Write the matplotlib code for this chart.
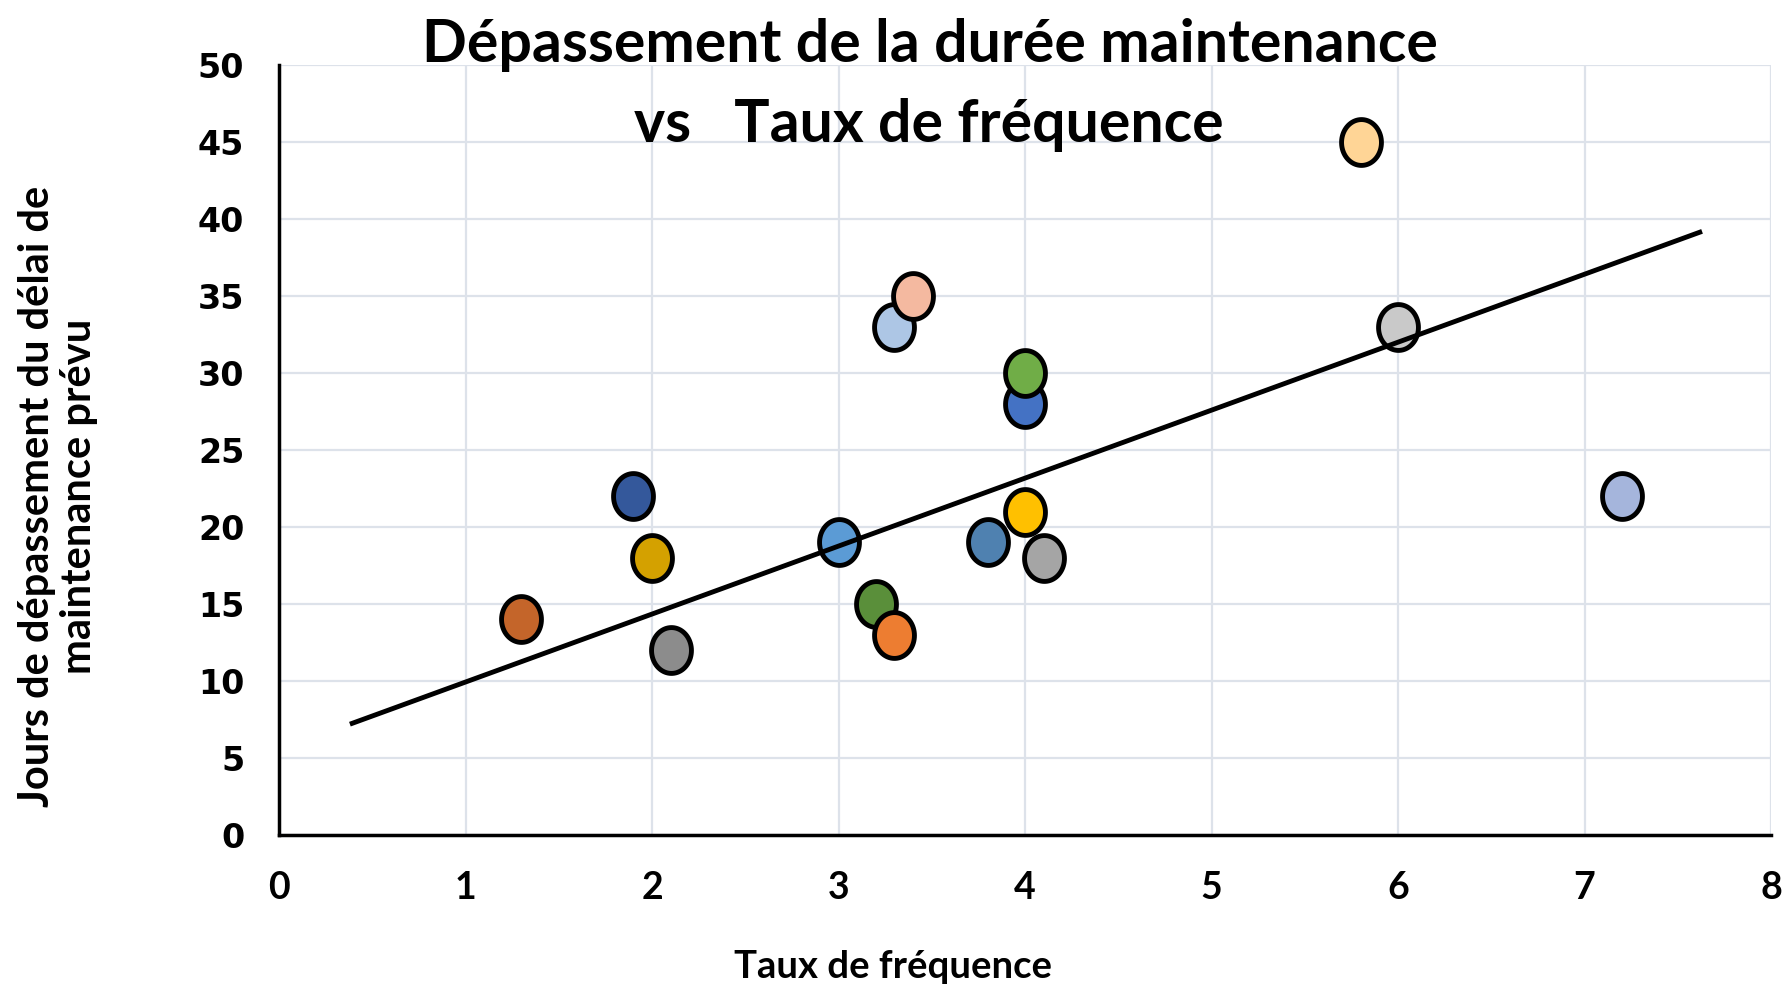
import numpy as np
import matplotlib
matplotlib.use("Agg")
import matplotlib.pyplot as plt
from matplotlib.path import Path

# data
taux = [1.3, 1.9, 2.0, 2.1, 3.0, 3.3, 3.4, 3.2, 3.3, 3.8, 4.0, 4.0, 4.0, 4.1, 5.8, 6.0, 7.2]
jours = [14, 22, 18, 12, 19, 33, 35, 15, 13, 19, 28, 30, 21, 18, 45, 33, 22]
couleurs = ['#C4652A', '#34589B', '#D4A100', '#8C8C8C', '#5B9BD5', '#ADC6E5',
            '#F4B9A0', '#5A8F3A', '#ED7D31', '#4F81B0', '#4472C4', '#70AD47',
            '#FFC000', '#A5A5A5', '#FFD596', '#C9C9C9', '#A5B5DC']
trend_x = [0.38, 7.63]
trend_y = [7.2, 39.2]

NARROW = ['Lato', 'Open Sans', 'DejaVu Sans']

# slightly tall ellipse marker
t = np.linspace(0, 2 * np.pi, 80)
ellipse = Path(np.column_stack([0.87 * np.cos(t), np.sin(t)]), closed=True)

fig = plt.figure(figsize=(17.83, 9.86), dpi=100)
ax = fig.add_axes([0.1565, 0.1531, 0.8368, 0.7809])

for x, y, c in zip(taux, jours, couleurs):
    ax.plot(x, y, marker=ellipse, markersize=33, markerfacecolor=c,
            markeredgecolor='black', markeredgewidth=3.5, linestyle='none', zorder=3)

ax.plot(trend_x, trend_y, color='black', linewidth=3.5, zorder=4, solid_capstyle='butt')

ax.set_xlim(0, 8)
ax.set_ylim(0, 50)
ax.set_xticks(range(0, 9))
ax.set_yticks(range(0, 51, 5))
ax.grid(True, color='#DDE2EA', linewidth=1.6)
ax.set_axisbelow(True)

for s in ['top', 'right']:
    ax.spines[s].set_visible(False)
ax.spines['left'].set_linewidth(2.5)
ax.spines['bottom'].set_linewidth(2.5)
ax.spines['left'].set_zorder(5)
ax.spines['bottom'].set_zorder(5)

ax.tick_params(axis='both', length=0)
ax.tick_params(axis='y', pad=25)
ax.tick_params(axis='x', pad=26)
for lbl in ax.get_yticklabels():
    lbl.set_fontfamily('DejaVu Sans')
    lbl.set_fontweight('bold')
    lbl.set_fontsize(24)
for lbl in ax.get_xticklabels():
    lbl.set_fontfamily(NARROW)
    lbl.set_fontweight('bold')
    lbl.set_fontsize(27)

fig.text(0.5217, 0.937, 'Dépassement de la durée maintenance', ha='center',
         va='baseline', fontsize=42.5, fontweight='bold', family=NARROW)
fig.text(0.5207, 0.856, 'vs   Taux de fréquence', ha='center',
         va='baseline', fontsize=42.5, fontweight='bold', family=NARROW)

fig.text(0.5006, 0.008, 'Taux de fréquence', ha='center', va='baseline',
         fontsize=27.5, fontweight='bold', family=NARROW)
fig.text(0.0325, 0.497, 'Jours de dépassement du délai de\nmaintenance prévu',
         ha='center', va='center', rotation=90, fontsize=30, fontweight='bold',
         family=NARROW, linespacing=1.15)

fig.savefig('out.png', dpi=100)
